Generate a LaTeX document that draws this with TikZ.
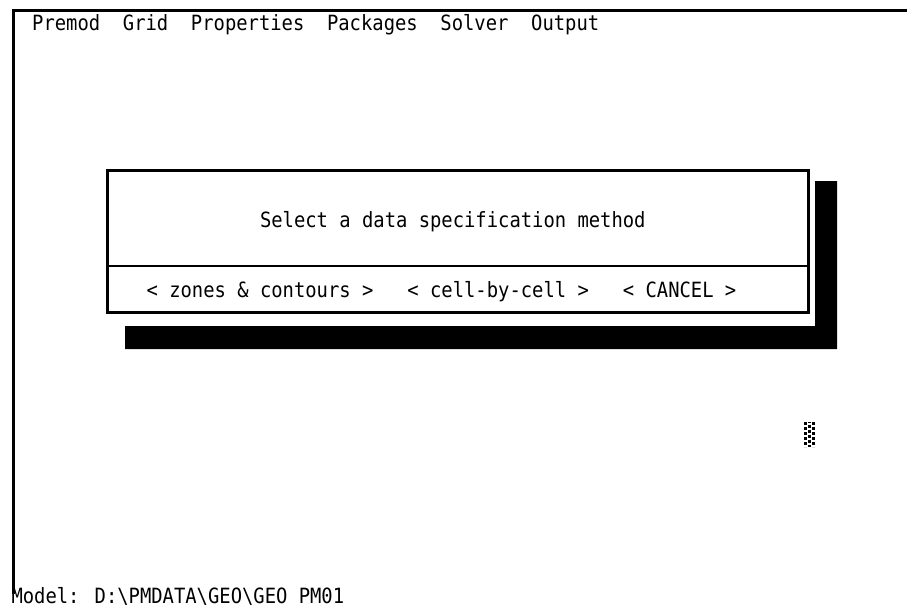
\documentclass[tikz,border=0pt]{standalone}
\usepackage{fontspec}
\newfontfamily\dosfont[FakeStretch=0.897]{DejaVu Sans Mono}
\usetikzlibrary{positioning}
\newcommand{\cw}{11.34}
\tikzset{
  scrtext/.style={font=\dosfont\fontsize{21pt}{22pt}\selectfont, inner sep=0pt, anchor=base west},
  dialogbox/.style={draw, line width=3pt, minimum width=701pt, minimum height=142pt, inner sep=0pt},
  frameline/.style={line width=3pt}
}

\begin{document}
\begin{tikzpicture}[x=1pt,y=-1pt]
    \useasboundingbox (0,0) rectangle (907,610);
    \clip (0,0) rectangle (907,610);
    % screen frame
    \coordinate (corner) at (13.5,10.5);
    \coordinate (topend) at (907,10.5);
    \coordinate (leftend) at (13.5,594);
    \draw[frameline] (leftend) -- (corner) -- (topend);
    % menu bar
    \foreach \name/\col in {Premod/3,Grid/11,Properties/17,Packages/29,Solver/39,Output/47}
      \node[scrtext] (menu-\name) at (\col*\cw-2,31) {\name};
    % shadow of the dialog
    \fill (815,181) -- (837,181) -- (837,349) -- (125,349) -- (125,326) -- (815,326) -- cycle;
    % dialog
    \node[dialogbox, fill=white] (dlg) at (458,241.5) {};
    \coordinate (divl) at (107.5,266);
    \coordinate (divr) at (808.5,266);
    \draw[line width=2pt] (divl) -- (divr);
    \node[scrtext] (title) at (23*\cw-1,227) {Select a data specification method};
    \node[scrtext] (btn-zones) at (13*\cw-1,297) {< zones \& contours >};
    \node[scrtext] (btn-cell) at (36*\cw-1,297) {< cell-by-cell >};
    \node[scrtext] (btn-cancel) at (55*\cw-1,297) {< CANCEL >};
    % cursor block
    \foreach \i/\off in {0/0,1/2.5,2/0}
      \draw[line width=3pt, dash pattern=on 3pt off 2pt, dash phase=\off] (805.5+\i*4,422) -- (805.5+\i*4,447);
    % status line
    \node[scrtext] (status) at (\cw,603) {Model: D:\textbackslash PMDATA\textbackslash GEO\textbackslash GEO PM01};
  \end{tikzpicture}
\end{document}
